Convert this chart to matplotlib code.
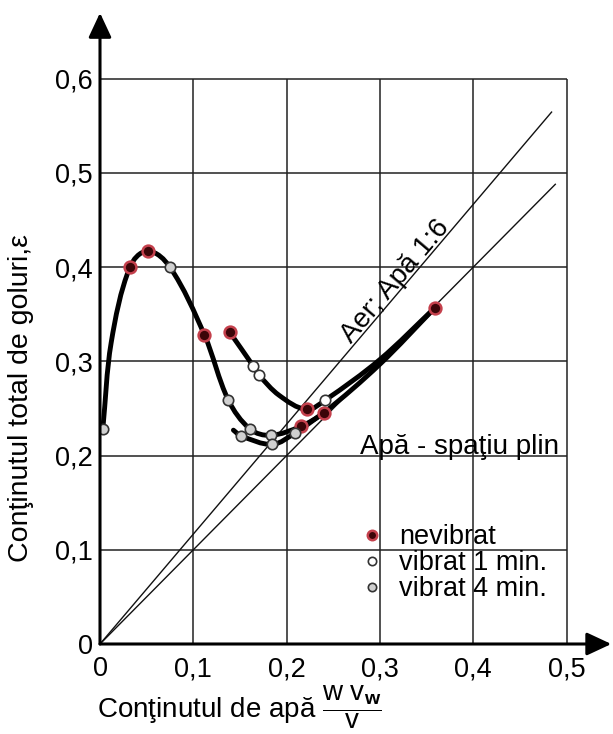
import matplotlib
matplotlib.use('Agg')
import matplotlib.pyplot as plt
import numpy as np
from matplotlib.path import Path
from matplotlib.patches import PathPatch

plt.rcParams['font.family'] = ['Liberation Sans', 'DejaVu Sans']
plt.rcParams['mathtext.fontset'] = 'custom'
plt.rcParams['mathtext.rm'] = 'Liberation Sans'
plt.rcParams['mathtext.it'] = 'Liberation Sans:italic'
plt.rcParams['mathtext.bf'] = 'Liberation Sans:bold'

# axes ticks
x_ticks = [0, 0.1, 0.2, 0.3, 0.4, 0.5]
x_labels = ['0', '0,1', '0,2', '0,3', '0,4', '0,5']
y_ticks = [0, 0.1, 0.2, 0.3, 0.4, 0.5, 0.6]
y_labels = ['0', '0,1', '0,2', '0,3', '0,4', '0,5', '0,6']

# reference lines: voids = k * water content
ratio_air_water = 7 / 6   # Aer; Apa 1:6
ratio_full = 1.0          # Apa - spatiu plin

# measured points
nevibrat_x = [0.032, 0.051, 0.112, 0.139, 0.215, 0.2215, 0.240, 0.359]
nevibrat_y = [0.400, 0.417, 0.328, 0.331, 0.231, 0.249, 0.2456, 0.357]
vibrat1_x = [0.1643, 0.170, 0.2415]
vibrat1_y = [0.295, 0.286, 0.259]
vibrat4_x = [0.003, 0.075, 0.1375, 0.161, 0.151, 0.183, 0.1847, 0.2094]
vibrat4_y = [0.228, 0.400, 0.259, 0.228, 0.221, 0.2215, 0.212, 0.2243]

# traced curves
curve_main_x = [0.003, 0.012, 0.032, 0.051, 0.075, 0.112,
                0.1375, 0.161, 0.183, 0.215, 0.240, 0.30, 0.359]
curve_main_y = [0.228, 0.320, 0.400, 0.417, 0.400, 0.328,
                0.259, 0.228, 0.2215, 0.231, 0.2456, 0.297, 0.357]
curve_upper_x = [0.139, 0.1643, 0.170, 0.192, 0.2215, 0.2415, 0.30, 0.359]
curve_upper_y = [0.331, 0.295, 0.286, 0.264, 0.249, 0.259, 0.302, 0.357]
curve_lower_x = [0.143, 0.151, 0.1847, 0.2094, 0.240]
curve_lower_y = [0.227, 0.221, 0.212, 0.2243, 0.2456]


def smooth_path(xs, ys):
    # smooth bezier through the points, tangents scaled by chord length
    p = np.column_stack([xs, ys])
    n = len(p)
    tang = np.zeros_like(p)
    for i in range(n):
        a = p[max(i - 1, 0)]
        b = p[min(i + 1, n - 1)]
        d = b - a
        tang[i] = d / np.hypot(*d)
    verts = [p[0]]
    codes = [Path.MOVETO]
    for i in range(n - 1):
        L = np.hypot(*(p[i + 1] - p[i])) / 3
        verts += [p[i] + tang[i] * L, p[i + 1] - tang[i + 1] * L, p[i + 1]]
        codes += [Path.CURVE4] * 3
    return Path(verts, codes)


fig = plt.figure(figsize=(6.13, 7.34), dpi=100)
xmax, ymax = 0.548, 0.67
ax = fig.add_axes([100 / 613, 90 / 734, xmax * 933 / 613, ymax * 942 / 734])
ax.set_xlim(0, xmax)
ax.set_ylim(0, ymax)
for s in ax.spines.values():
    s.set_visible(False)

# grid box
ax.vlines(x_ticks[1:], 0, y_ticks[-1], color='#222222', lw=1.1, zorder=1)
ax.hlines(y_ticks[1:], 0, x_ticks[-1], color='#222222', lw=1.1, zorder=1)

# axes with arrows
arrow = dict(arrowstyle='-|>,head_length=0.75,head_width=0.35', lw=2.2, color='black',
             mutation_scale=20, shrinkA=0, shrinkB=0)
ax.annotate('', xy=(xmax, 0), xytext=(0, 0), arrowprops=arrow, annotation_clip=False, zorder=5)
ax.annotate('', xy=(0, ymax), xytext=(0, 0), arrowprops=arrow, annotation_clip=False, zorder=5)

# reference lines
xl = np.array([0, 0.484])
ax.plot(xl, ratio_air_water * xl, color='#111111', lw=1.0, zorder=2)
xl2 = np.array([0, 0.488])
ax.plot(xl2, ratio_full * xl2, color='#111111', lw=1.0, zorder=2)
ax.text(0.317, 0.385, 'Aer; Apă 1:6', rotation=49.7, rotation_mode='anchor',
        ha='center', va='center', fontsize=20)
ax.text(0.2787, 0.202, 'Apă - spaţiu plin', ha='left', va='baseline', fontsize=20)

# curves
for cx, cy in [(curve_main_x, curve_main_y), (curve_upper_x, curve_upper_y),
               (curve_lower_x, curve_lower_y)]:
    ax.add_patch(PathPatch(smooth_path(cx, cy), fill=False, lw=3.5, ec='black',
                           capstyle='round', joinstyle='round', zorder=3))

# points
h1, = ax.plot(nevibrat_x, nevibrat_y, 'o', ls='none', ms=8.5, mfc='#3b0508', mec='#c4404c',
              mew=1.8, zorder=4, label='nevibrat')
h2, = ax.plot(vibrat1_x, vibrat1_y, 'o', ls='none', ms=7.5, mfc='white', mec='#333333',
              mew=1.2, zorder=4, label='vibrat 1 min.')
h3, = ax.plot(vibrat4_x, vibrat4_y, 'o', ls='none', ms=7.5, mfc='#d0d0d0', mec='#333333',
              mew=1.2, zorder=4, label='vibrat 4 min.')

ax.legend(handles=[h1, h2, h3], loc='center left', bbox_to_anchor=(0.2828, 0.086),
          bbox_transform=ax.transData, frameon=False, fontsize=19.5, handlelength=0.6,
          handletextpad=0.7, labelspacing=0.0, borderpad=0, borderaxespad=0, markerscale=0.8)

ax.set_xticks(x_ticks, x_labels)
ax.set_yticks(y_ticks, y_labels)
ax.tick_params(axis='both', length=0, labelsize=19.5)
ax.tick_params(axis='x', pad=9)
ax.tick_params(axis='y', pad=5)

fig.text(21 / 613, 1 - 398 / 734, 'Conţinutul total de goluri,ε', rotation=90,
         ha='center', va='center', fontsize=20.5)
fig.text(97 / 613, 1 - 718 / 734,
         r'Conţinutul de apă $\dfrac{\mathrm{w\ v}_{\mathbf{w}}}{\mathrm{v}}$',
         ha='left', va='baseline', fontsize=20)

fig.savefig('out.png', dpi=100)
